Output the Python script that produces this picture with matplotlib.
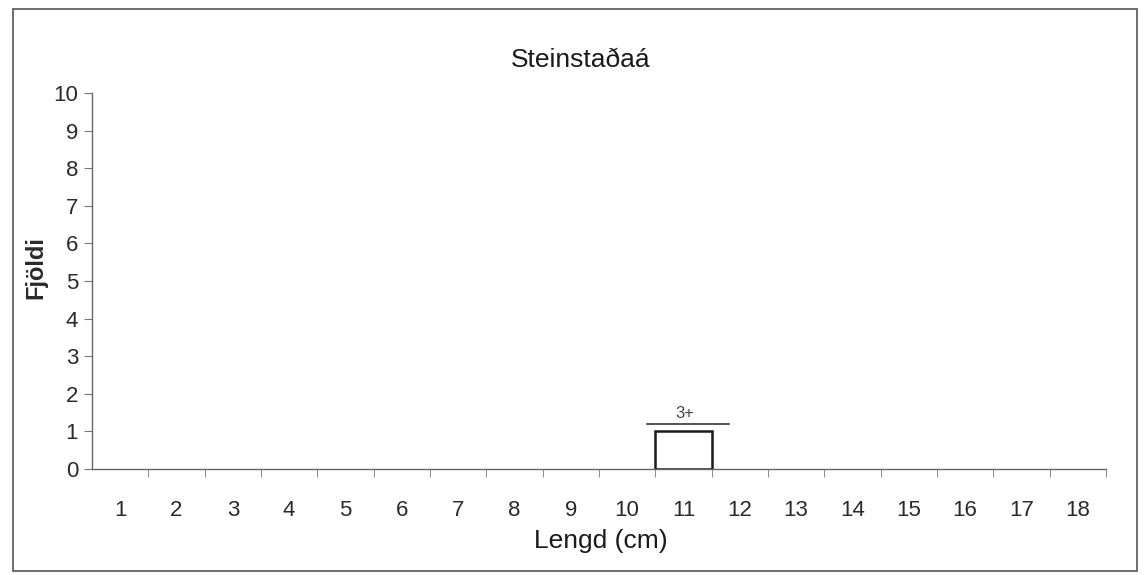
import matplotlib
matplotlib.use("Agg")
import matplotlib.pyplot as plt
from matplotlib.patches import Rectangle

categories = list(range(1, 18 + 1))
counts = [0, 0, 0, 0, 0, 0, 0, 0, 0, 0, 1, 0, 0, 0, 0, 0, 0, 0]
title = "Steinstaðaá"
age_label = "3+"
age_span = (10.35, 11.8)
age_level = 1.2

plt.rcParams['font.family'] = ['Liberation Sans', 'DejaVu Sans']

W, H = 1144, 575
fig = plt.figure(figsize=(W / 100, H / 100), dpi=100)
ax = fig.add_axes([92 / W, 1 - 469 / H, (1106 - 92) / W, (469 - 93) / H])

nz = [(c, v) for c, v in zip(categories, counts) if v > 0]
ax.bar([c for c, _ in nz], [v for _, v in nz], width=1.0, facecolor='white',
       edgecolor='#1a1a1a', linewidth=1.8)

ax.set_xlim(0.5, 18.5)
ax.set_ylim(0, 10)
ax.set_yticks(range(0, 11))
ax.set_xticks(categories)
ax.set_xticks([c + 0.5 for c in categories], minor=True)
ax.tick_params(axis='x', which='major', length=0, pad=22, labelsize=16, colors='#2a2a2a')
ax.tick_params(axis='x', which='minor', length=6, color='#777777')
ax.tick_params(axis='y', length=6, pad=4, labelsize=16, color='#777777', labelcolor='#2a2a2a')
for s in ['top', 'right']:
    ax.spines[s].set_visible(False)
for s in ['left', 'bottom']:
    ax.spines[s].set_color('#666666')
    ax.spines[s].set_linewidth(1.0)

ax.plot(age_span, [age_level, age_level], color='#333333', linewidth=1.2, clip_on=False)
ax.text(sum(age_span) / 2 - 0.05, age_level + 0.15, age_label, ha='center', va='baseline',
        fontsize=12, color='#444444')

fig.text(581 / W, 1 - 67 / H, title, ha='center', va='baseline', fontsize=19, color='#1a1a1a')
fig.text(601 / W, 1 - 548 / H, "Lengd (cm)", ha='center', va='baseline', fontsize=19, color='#1a1a1a')
fig.text(36 / W, 1 - 268 / H, "Fjöldi", ha='center', va='center', rotation=90,
         fontsize=17, fontweight='bold', color='#2a2a2a')

fig.patches.append(Rectangle((13 / W, 1 - 571 / H), (1137 - 13) / W, (571 - 9) / H,
                             transform=fig.transFigure, fill=False, edgecolor='#555555', linewidth=1.2))

fig.savefig("out.png", dpi=100, facecolor='white')
